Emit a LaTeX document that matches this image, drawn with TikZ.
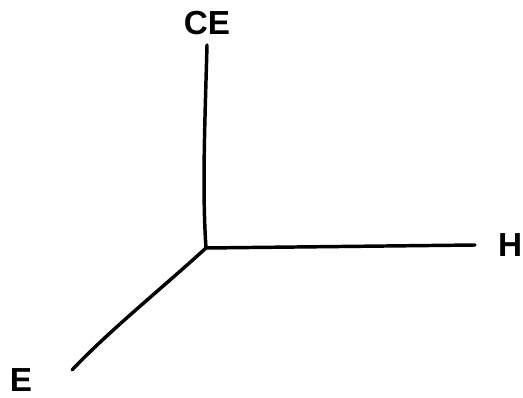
\documentclass[tikz,border=0pt]{standalone}
\usepackage{fontspec}
\setmainfont{Liberation Sans}
\usetikzlibrary{positioning}

\begin{document}
\begin{tikzpicture}[
  x=0.75pt, y=-0.75pt,
  node distance=6mm,
  lbl/.style={font=\fontsize{25}{25}\selectfont\bfseries, inner sep=0pt},
  axis/.style={line width=2.6pt, line cap=round, line join=round}
]
\useasboundingbox (0,0) rectangle (523,398);
% axis ends
\coordinate (origin) at (206,248);
\coordinate (cetop) at (207,45);
\coordinate (hend) at (475,245);
\coordinate (eend) at (72,370);
% labels
\node[lbl, above=2.5mm of cetop] (ce) {CE};
\node[lbl, right=6mm of hend, anchor=west] (h) {H};
\node[lbl] (e) at (21,380) {E};

\draw[axis] (cetop) .. controls (205,120) and (202,190) .. (origin);
\draw[axis] (origin) -- (hend);
\draw[axis] (origin) .. controls (160,290) and (110,330) .. (eend);
\end{tikzpicture}
\end{document}
